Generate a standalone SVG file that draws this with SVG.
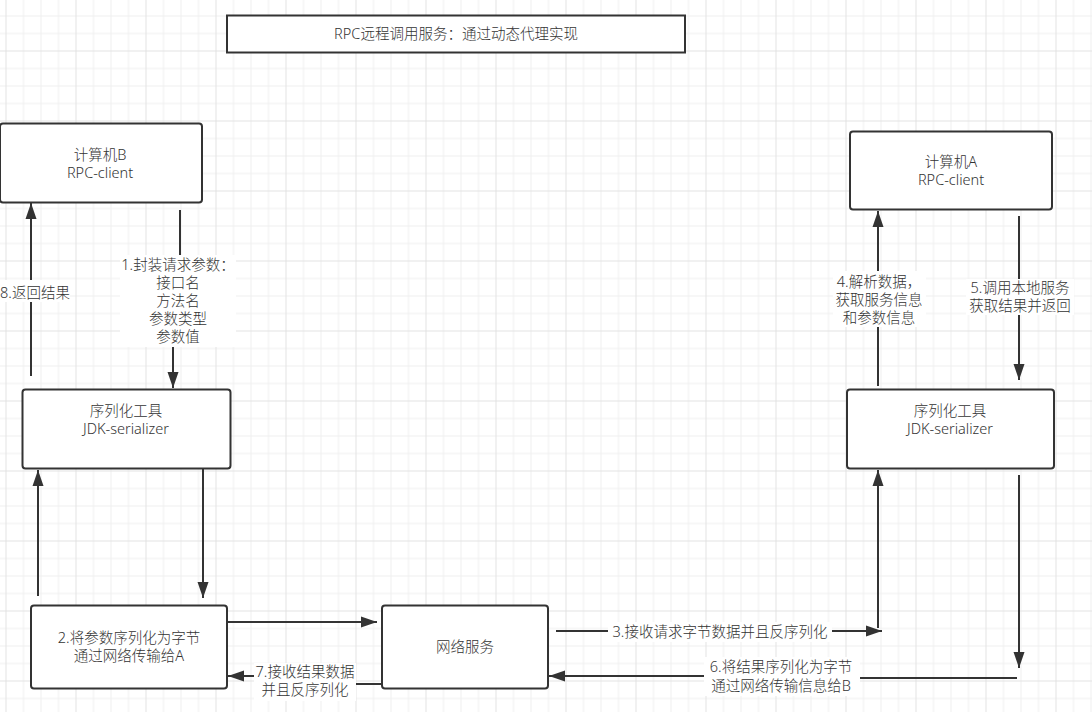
<svg xmlns="http://www.w3.org/2000/svg" width="1092" height="712" viewBox="0 0 1092 712">
<defs>
<pattern id="grid" patternUnits="userSpaceOnUse" x="5.5" y="50.5" width="70" height="70">
<rect width="70" height="70" fill="#ffffff"/>
<rect x="17.5" y="0" width="1" height="70" fill="#efefef"/>
<rect x="35" y="0" width="1" height="70" fill="#efefef"/>
<rect x="52.5" y="0" width="1" height="70" fill="#efefef"/>
<rect x="0" y="17.5" width="70" height="1" fill="#efefef"/>
<rect x="0" y="35" width="70" height="1" fill="#efefef"/>
<rect x="0" y="52.5" width="70" height="1" fill="#efefef"/>
<rect x="0" y="0" width="1" height="70" fill="#e2e2e2"/>
<rect x="0" y="0" width="70" height="1" fill="#e2e2e2"/>
</pattern>
<marker id="arr" markerUnits="userSpaceOnUse" markerWidth="17" markerHeight="12" refX="16" refY="6" orient="auto">
<path d="M0,0.5 L16,6 L0,11.5 z" fill="#333"/>
</marker>
<style>
.n{fill:#fff;stroke:#333;stroke-width:2}
.t{font-family:"Noto Sans","Noto Sans CJK SC",sans-serif;font-size:14.5px;font-weight:300;fill:#333;text-anchor:middle}
.e{fill:none;stroke:#333;stroke-width:2}
.a{marker-end:url(#arr)}
.bg{fill:#fff}
</style>
</defs>
<rect width="1092" height="712" fill="url(#grid)"/>

<g id="title">
<rect class="n" x="227" y="15.5" width="458" height="37"/>
<text class="t" x="456" y="39">RPC远程调用服务：通过动态代理实现</text>
</g>

<g id="connectors">
<line class="e a" x1="31" y1="376" x2="31" y2="203"/>
<polyline class="e a" points="180,210 180,301 173,301 173,388"/>
<line class="e a" x1="38" y1="596" x2="38" y2="470"/>
<line class="e a" x1="203" y1="469" x2="203" y2="598"/>
<line class="e a" x1="227" y1="622" x2="377" y2="622"/>
<polyline class="e a" points="382,684 305,684 305,676 228,676"/>
<line class="e a" x1="556" y1="631" x2="882" y2="631"/>
<line class="e a" x1="878" y1="628" x2="878" y2="470"/>
<line class="e a" x1="878" y1="386" x2="878" y2="211"/>
<line class="e a" x1="1019" y1="216" x2="1019" y2="380"/>
<line class="e a" x1="1019" y1="475" x2="1019" y2="668"/>
<polyline class="e a" points="1017,678 781,678 781,676 549,676"/>

<rect class="bg" x="0" y="280" width="70" height="22"/>
<text class="t" x="35" y="298">8.返回结果</text>

<rect class="bg" x="120" y="255" width="116" height="92"/>
<text class="t" x="178" y="270">1.封装请求参数：</text>
<text class="t" x="178" y="288">接口名</text>
<text class="t" x="178" y="306">方法名</text>
<text class="t" x="178" y="324">参数类型</text>
<text class="t" x="178" y="342">参数值</text>

<rect class="bg" x="254" y="663" width="102" height="38"/>
<text class="t" x="305" y="677">7.接收结果数据</text>
<text class="t" x="305" y="695">并且反序列化</text>

<rect class="bg" x="608" y="622" width="224" height="20"/>
<text class="t" x="720" y="637">3.接收请求字节数据并且反序列化</text>

<rect class="bg" x="704" y="657" width="156" height="39"/>
<text class="t" x="781" y="672">6.将结果序列化为字节</text>
<text class="t" x="781" y="691">通过网络传输信息给B</text>

<rect class="bg" x="833" y="271" width="93" height="56"/>
<text class="t" x="879" y="287">4.解析数据，</text>
<text class="t" x="879" y="305">获取服务信息</text>
<text class="t" x="879" y="323">和参数信息</text>

<rect class="bg" x="966" y="279" width="108" height="36"/>
<text class="t" x="1020" y="293">5.调用本地服务</text>
<text class="t" x="1020" y="311">获取结果并返回</text>
</g>

<g id="computerB">
<rect class="n" x="0" y="123.5" width="202" height="79" rx="3"/>
<text class="t" x="100" y="160">计算机B</text>
<text class="t" x="100" y="178">RPC-client</text>
</g>

<g id="serializerB">
<rect class="n" x="22.5" y="389.5" width="208" height="79" rx="3"/>
<text class="t" x="126" y="416">序列化工具</text>
<text class="t" x="126" y="434">JDK-serializer</text>
</g>

<g id="sendB">
<rect class="n" x="31" y="605.5" width="196" height="83" rx="3"/>
<text class="t" x="129" y="643">2.将参数序列化为字节</text>
<text class="t" x="129" y="661">通过网络传输给A</text>
</g>

<g id="network">
<rect class="n" x="382" y="605.5" width="166" height="83" rx="3"/>
<text class="t" x="465" y="652">网络服务</text>
</g>

<g id="computerA">
<rect class="n" x="850" y="131.5" width="202" height="78" rx="3"/>
<text class="t" x="951" y="167">计算机A</text>
<text class="t" x="951" y="185">RPC-client</text>
</g>

<g id="serializerA">
<rect class="n" x="847" y="389.5" width="207" height="79" rx="3"/>
<text class="t" x="950" y="416">序列化工具</text>
<text class="t" x="950" y="434">JDK-serializer</text>
</g>
</svg>
